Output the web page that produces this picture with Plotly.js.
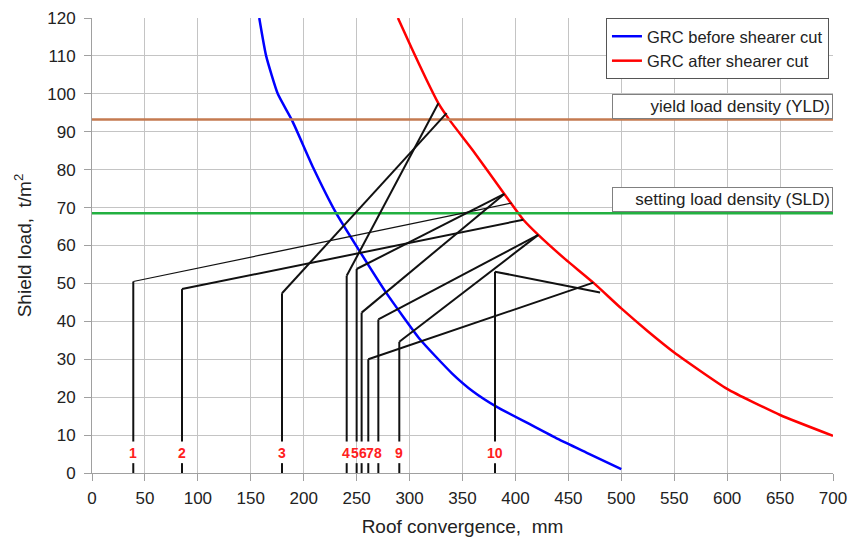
<!DOCTYPE html>
<html><head><meta charset="utf-8">
<script src="https://cdn.plot.ly/plotly-3.0.1.min.js"></script>
<style>html,body{margin:0;padding:0;background:#fff}</style>
</head><body><div id="chart" style="width:861px;height:543px"></div>
<script>
// GRC before shearer cut (blue)
const beforeX = [158,164.5,175.5,189,209,230.5,253.5,278,310,340,360,382,414,440,470,500];
const beforeY = [120,110,100,93,80.5,68.6,58.2,47.5,35.2,26.3,21.5,17.5,12.8,9,5,1];
// GRC after shearer cut (red)
const afterX = [289,302,316,327,338,360,389.5,407.5,421.6,447,473.6,500,525,550,600,650,700];
const afterY = [120,112,103.7,97.6,93,85,73.6,66.8,62.8,56.4,50.2,43.4,37.4,31.8,22.2,15.3,9.8];
// support cases
const caseLabels = ['1','2','3','4','5','6','7','8','9','10'];
const startX = [39,85,179.5,240.6,250,254.7,261,270.5,290.3,380.7];
const startY = [50.5,48.5,47.4,52,53.8,42.3,30,40.5,34.6,53.1];
const endX   = [396.5,407.5,335,327.2,389.5,389.5,473.6,421.6,421.6,480];
const endY   = [71.2,66.8,94.9,97.5,73.6,73.6,50.2,62.8,62.8,47.6];
// reference load densities
const yldValue = 93.2, sldValue = 68.5;
const yldText = 'yield load density (YLD)', sldText = 'setting load density (SLD)';

const font = 'Liberation Sans, Arial, sans-serif';
const traces = [];
traces.push({x: beforeX, y: beforeY, mode:'lines', name:'GRC before shearer cut',
  line:{color:'#0000ff', width:2.5, shape:'spline', smoothing:0.5}});
traces.push({x: afterX, y: afterY, mode:'lines', name:'GRC after shearer cut',
  line:{color:'#ff0000', width:2.5, shape:'spline', smoothing:0.5}});
traces.push({x:[0,700], y:[yldValue,yldValue], mode:'lines', showlegend:false, line:{color:'#c47a50', width:2.5}, hoverinfo:'skip'});
traces.push({x:[0,700], y:[sldValue,sldValue], mode:'lines', showlegend:false, line:{color:'#22b040', width:2.5}, hoverinfo:'skip'});

const gapLow = 2.6, gapHigh = 8.3;
const vx = [], vy = [];
for (let i = 0; i < startX.length; i++) {
  vx.push(startX[i], startX[i], null, startX[i], startX[i], null);
  vy.push(0, gapLow, null, gapHigh, startY[i], null);
}
traces.push({x:vx, y:vy, mode:'lines', showlegend:false, line:{color:'#111', width:2}, hoverinfo:'skip'});
for (let i = 0; i < startX.length; i++) {
  traces.push({x:[startX[i], endX[i]], y:[startY[i], endY[i]], mode:'lines', showlegend:false,
    line:{color:'#111', width: i === 0 ? 1.2 : 2}, hoverinfo:'skip'});
}

const annotations = [];
const shifts = [0,0,0,-1,-2,1.5,1.5,0,0,0];
for (let i = 0; i < caseLabels.length; i++) {
  annotations.push({x:startX[i], y:5.3, xref:'x', yref:'y', text:'<b>'+caseLabels[i]+'</b>', showarrow:false,
    xshift:shifts[i], font:{family:font, size:14, color:'#ff2020'}});
}
annotations.push({x:1, xref:'paper', xanchor:'right', y:yldValue, yref:'y', yanchor:'bottom', yshift:1,
  text:yldText, showarrow:false, align:'right', width:215, bgcolor:'#fff', bordercolor:'#808080', borderwidth:1, borderpad:2,
  font:{family:font, size:17, color:'#222'}});
annotations.push({x:1, xref:'paper', xanchor:'right', y:sldValue, yref:'y', yanchor:'bottom', yshift:1,
  text:sldText, showarrow:false, align:'right', width:215, bgcolor:'#fff', bordercolor:'#808080', borderwidth:1, borderpad:2,
  font:{family:font, size:17, color:'#222'}});

const layout = {
  width:861, height:543,
  margin:{l:92, r:28, t:18, b:70},
  paper_bgcolor:'#fff', plot_bgcolor:'#fff',
  font:{family:font, color:'#222'},
  xaxis:{range:[0,700], dtick:50, tick0:0, showgrid:true, gridcolor:'#c4c4c4', gridwidth:1, zeroline:false,
    showline:true, linecolor:'#a0a0a0', ticks:'outside', ticklen:7, tickcolor:'#a0a0a0', ticklabelstandoff:3,
    tickfont:{size:17, family:font, color:'#222'},
    title:{text:'Roof convergence,  mm', font:{size:19, family:font, color:'#222'}, standoff:12}},
  yaxis:{range:[0,120], dtick:10, tick0:0, showgrid:true, gridcolor:'#c4c4c4', gridwidth:1, zeroline:false,
    showline:true, linecolor:'#a0a0a0', ticks:'outside', ticklen:7, tickcolor:'#a0a0a0', ticklabelstandoff:5,
    tickfont:{size:17, family:font, color:'#222'},
    title:{text:'Shield load,  t/m<sup>2</sup>', font:{size:19, family:font, color:'#222'}, standoff:10}},
  legend:{x:0.6936, xanchor:'left', y:1.0, yanchor:'top', bgcolor:'#fff', bordercolor:'#555', borderwidth:1,
    font:{size:16.5, family:font, color:'#222'}, itemwidth:30, tracegroupgap:0},
  annotations: annotations,
  showlegend:true
};
Plotly.newPlot('chart', traces, layout, {displayModeBar:false, staticPlot:true});
</script></body></html>
